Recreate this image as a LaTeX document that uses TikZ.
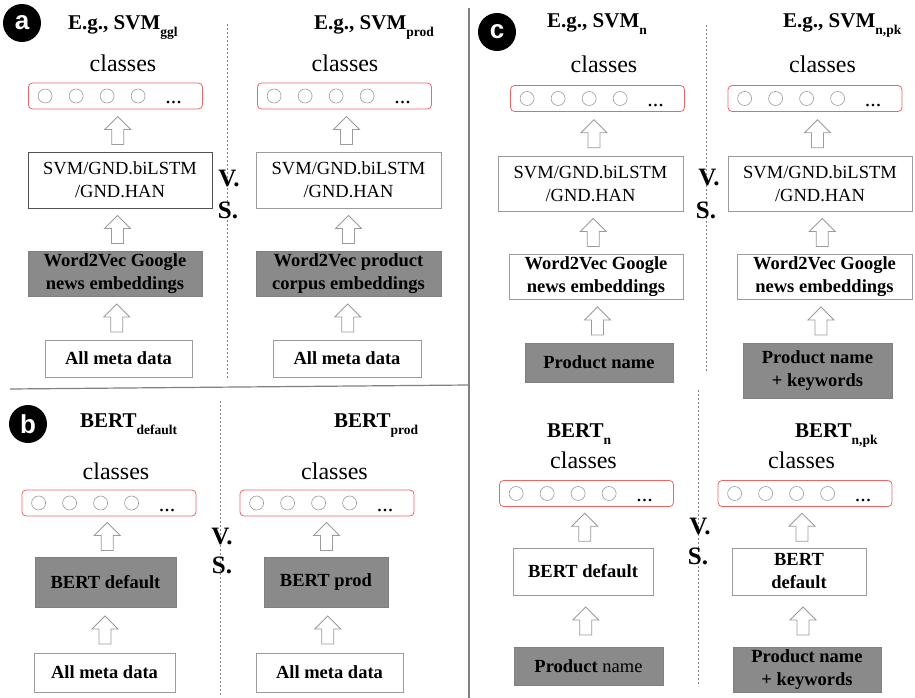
\documentclass[tikz,border=0pt]{standalone}
\usepackage{fontspec}
\setmainfont{Liberation Serif}
\newfontfamily\lblfont{Liberation Sans}
\usetikzlibrary{calc}
\definecolor{redline}{RGB}{240,100,100}
\definecolor{boxgray}{RGB}{138,138,138}
\definecolor{lineg}{RGB}{155,155,155}
\definecolor{darkline}{RGB}{80,80,80}
\newcommand\subt[1]{{\fontsize{13.5}{13.5}\selectfont\raisebox{-7pt}{#1}}}
\newcommand\dotsrow[1]{%
  \foreach \dx in {17,48,79,110}{\draw[lineg, line width=0.6pt] ($(#1.west)+(\dx,0)$) circle[radius=7];}
  \node[anchor=base, font=\fontsize{22}{22}\selectfont, inner sep=0pt] (#1-dots) at ($(#1.west)+(145.5,8)$) {...};}
\newcommand\hollowup[2]{\path ($(#1.north)!0.5!(#2.south)$) pic{uparr};}
\tikzset{
  wbox/.style={draw=lineg, line width=0.8pt, fill=white, align=center, inner sep=0pt, font=\fontsize{18.5}{23}\selectfont},
  bbox/.style={wbox, font=\fontsize{18.5}{23}\selectfont\bfseries},
  gbox/.style={wbox, fill=boxgray, draw=gray, font=\fontsize{18.5}{23}\selectfont\bfseries},
  redbox/.style={draw=redline, rounded corners=4pt, line width=0.8pt, minimum width=174pt, minimum height=26pt, inner sep=0pt},
  clslabel/.style={anchor=base, font=\fontsize{24}{24}\selectfont, inner sep=0pt},
  ttl/.style={anchor=base west, font=\fontsize{21}{21}\selectfont\bfseries, inner sep=0pt},
  vs/.style={font=\fontsize{25}{25}\selectfont\bfseries, inner sep=0pt},
  badge/.style={circle, fill=black, text=white, minimum size=38pt, inner sep=0pt, font=\lblfont\fontsize{26}{26}\selectfont\bfseries},
  sepline/.style={draw=gray, line width=1.2pt},
  dsep/.style={draw=gray, line width=0.6pt, dash pattern=on 2pt off 2pt},
  uparr/.pic={\draw[lineg, line width=0.8pt, fill=white] (0,-14) -- (13,-1) -- (6,-1) -- (6,14) -- (-6,14) -- (-6,-1) -- (-13,-1) -- cycle;},
}
\begin{document}
\begin{tikzpicture}[x=1pt, y=-1pt]
\useasboundingbox[fill=white] (0,0) rectangle (915,698);
% separators
\draw[sepline] (469,8) -- (469,698);
\draw[sepline] (10,389) -- (469,385);
\draw[dsep] (227,24) -- (227,380);
\draw[dsep] (220,401) -- (220,695);
\draw[dsep] (706,25) -- (706,373);
\draw[dsep] (698,390) -- (698,685);

% ---------------- panel a ----------------
\node[badge] (ba) at (22,23) {a};
\node[ttl] (tA1) at (68,30) {E.g., SVM\subt{ggl}};
\node[ttl] (tA2) at (314,30) {E.g., SVM\subt{prod}};
\node[clslabel] (cA1) at (123,72) {classes};
\node[clslabel] (cA2) at (345,72) {classes};
\node[redbox] (rA1) at (115.5,96) {};
\node[redbox] (rA2) at (344.5,96) {};
\dotsrow{rA1}\dotsrow{rA2}
\node[wbox, draw=darkline, minimum width=184pt, minimum height=56pt] (sA1) at (120,180) {SVM/GND.biLSTM\\/GND.HAN};
\node[wbox, minimum width=185pt, minimum height=56pt] (sA2) at (348.5,180) {SVM/GND.biLSTM\\/GND.HAN};
\node[gbox, minimum width=174pt, minimum height=45pt] (wA1) at (115,273.5) {Word2Vec Google\\news embeddings};
\node[gbox, minimum width=185pt, minimum height=45pt] (wA2) at (348.5,273.5) {Word2Vec product\\corpus embeddings};
\node[bbox, minimum width=147pt, minimum height=37pt] (mA1) at (118.5,358.5) {All meta data};
\node[bbox, minimum width=148pt, minimum height=37pt] (mA2) at (347,358.5) {All meta data};
\node[vs] (vA) at (229,179) {V.};
\node[vs] (sA) at (228,210) {S.};
\hollowup{sA1}{rA1}\hollowup{sA2}{rA2}
\hollowup{wA1}{sA1}\hollowup{wA2}{sA2}
\hollowup{mA1}{wA1}\hollowup{mA2}{wA2}

% ---------------- panel b ----------------
\node[badge] (bb) at (28,424) {b};
\node[ttl] (tB1) at (80,427) {BERT\subt{default}};
\node[ttl] (tB2) at (334,427) {BERT\subt{prod}};
\node[clslabel] (cB1) at (116,479) {classes};
\node[clslabel] (cB2) at (334.5,479) {classes};
\node[redbox] (rB1) at (109,503) {};
\node[redbox] (rB2) at (327,503) {};
\dotsrow{rB1}\dotsrow{rB2}
\node[gbox, minimum width=141pt, minimum height=50pt] (gB1) at (105.5,582) {BERT default};
\node[gbox, minimum width=124pt, minimum height=50pt] (gB2) at (326,582) {BERT prod};
\node[bbox, minimum width=141pt, minimum height=39pt] (mB1) at (104.5,672.5) {All meta data};
\node[bbox, minimum width=147pt, minimum height=39pt] (mB2) at (329.5,672.5) {All meta data};
\node[vs] (vB) at (222,536) {V.};
\node[vs] (sB) at (222,565) {S.};
\hollowup{gB1}{rB1}\hollowup{gB2}{rB2}
\hollowup{mB1}{gB1}\hollowup{mB2}{gB2}

% ---------------- panel c ----------------
\node[badge] (bc) at (497,32) {c};
\node[ttl] (tC1) at (547,28) {E.g., SVM\subt{n}};
\node[ttl] (tC2) at (783,28) {E.g., SVM\subt{n,pk}};
\node[clslabel] (cC1) at (604,73) {classes};
\node[clslabel] (cC2) at (822.5,73) {classes};
\node[redbox] (rC1) at (597.5,98.5) {};
\node[redbox] (rC2) at (815,98.5) {};
\dotsrow{rC1}\dotsrow{rC2}
\node[wbox, minimum width=185pt, minimum height=55pt] (sC1) at (590.5,183.5) {SVM/GND.biLSTM\\/GND.HAN};
\node[wbox, minimum width=184pt, minimum height=55pt] (sC2) at (820,183.5) {SVM/GND.biLSTM\\/GND.HAN};
\node[bbox, minimum width=174pt, minimum height=45pt] (wC1) at (596,276.5) {Word2Vec Google\\news embeddings};
\node[bbox, minimum width=175pt, minimum height=45pt] (wC2) at (824.5,276.5) {Word2Vec Google\\news embeddings};
\node[gbox, minimum width=148pt, minimum height=39pt] (pC1) at (599,362.5) {Product name};
\node[gbox, minimum width=149pt, minimum height=55pt] (pC2) at (817.5,370.5) {Product name\\+ keywords};
\node[vs] (vC) at (709,178) {V.};
\node[vs] (sC) at (706,210) {S.};
\hollowup{sC1}{rC1}\hollowup{sC2}{rC2}
\hollowup{wC1}{sC1}\hollowup{wC2}{sC2}
\hollowup{pC1}{wC1}\hollowup{pC2}{wC2}

\node[ttl] (tC3) at (547,437) {BERT\subt{n}};
\node[ttl] (tC4) at (795,437) {BERT\subt{n,pk}};
\node[clslabel] (cC3) at (583.5,468) {classes};
\node[clslabel] (cC4) at (801.5,468) {classes};
\node[redbox] (rC3) at (586.5,493.5) {};
\node[redbox] (rC4) at (805,493.5) {};
\dotsrow{rC3}\dotsrow{rC4}
\node[bbox, minimum width=140pt, minimum height=47pt] (eC1) at (583,571.5) {BERT default};
\node[bbox, minimum width=134pt, minimum height=47pt] (eC2) at (799,571.5) {BERT\\default};
\node[gbox, minimum width=149pt, minimum height=38pt] (pC3) at (588.5,666) {Product \textmd{name}};
\node[gbox, minimum width=148pt, minimum height=45pt] (pC4) at (807,669.5) {Product name\\+ keywords};
\node[vs] (vD) at (700,526) {V.};
\node[vs] (sD) at (698,556) {S.};
\hollowup{eC1}{rC3}\hollowup{eC2}{rC4}
\hollowup{pC3}{eC1}\hollowup{pC4}{eC2}
\end{tikzpicture}
\end{document}
